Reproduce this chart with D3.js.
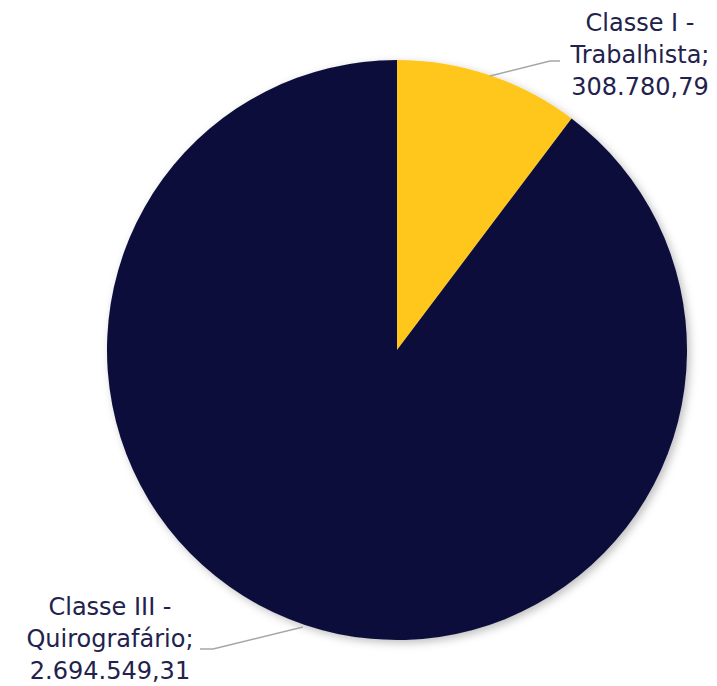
<!DOCTYPE html>
<html>
<head>
<meta charset="utf-8">
<script src="https://cdn.jsdelivr.net/npm/d3@7"></script>
<style>
  body { margin:0; background:#fff; }
  text { font-family: "DejaVu Sans", "Lato", sans-serif; fill:#22224c; }
</style>
</head>
<body>
<svg id="chart" width="717" height="686"></svg>
<script>
// data
var categories = ["Classe I - Trabalhista", "Classe III - Quirografário"];
var values = [308780.79, 2694549.31];
var valueLabels = ["308.780,79", "2.694.549,31"];
var colors = ["#ffc61e", "#0d0d3a"];

var conf = {
    cx: 397,
    cy: 350,
    radius: 290,
    fontSize: 24,
    lineHeight: 32
};

var svg = d3.select("#chart");

// soft shadow round the pie
var defs = svg.append("defs");
var f = defs.append("filter").attr("id", "shadow")
    .attr("x", "-10%").attr("y", "-10%").attr("width", "120%").attr("height", "120%");
f.append("feDropShadow")
    .attr("dx", 3).attr("dy", 3)
    .attr("stdDeviation", 4)
    .attr("flood-color", "#000")
    .attr("flood-opacity", 0.25);

var pie = d3.pie().sort(null).value(function(d){ return d; });
var arc = d3.arc().innerRadius(0).outerRadius(conf.radius);
var arcs = pie(values);

var g = svg.append("g")
    .attr("transform", "translate(" + conf.cx + "," + conf.cy + ")")
    .attr("filter", "url(#shadow)");

g.selectAll("path")
    .data(arcs)
    .enter().append("path")
    .attr("d", arc)
    .attr("fill", function(d, i){ return colors[i]; });

// label placement (outside, with leader lines)
var labelPos = [
    { x: 640, y: 31, rim: [490, 76], elbow: [550, 61], end: [560, 61] },
    { x: 110, y: 615, rim: [303, 627], elbow: [213, 649], end: [200, 649] }
];

arcs.forEach(function(a, i){
    var p = labelPos[i];

    svg.append("polyline")
        .attr("points", [p.rim, p.elbow, p.end].map(function(q){ return q.join(","); }).join(" "))
        .attr("fill", "none")
        .attr("stroke", "#a6a6a6")
        .attr("stroke-width", 1.5);

    var parts = categories[i].split(" - ");
    var lines = [parts[0] + " -", parts[1] + ";", valueLabels[i]];
    var t = svg.append("text")
        .attr("x", p.x)
        .attr("y", p.y)
        .attr("text-anchor", "middle")
        .style("font-size", conf.fontSize + "px");
    lines.forEach(function(l, j){
        t.append("tspan")
            .attr("x", p.x)
            .attr("dy", j === 0 ? 0 : conf.lineHeight)
            .text(l);
    });
});
</script>
</body>
</html>
